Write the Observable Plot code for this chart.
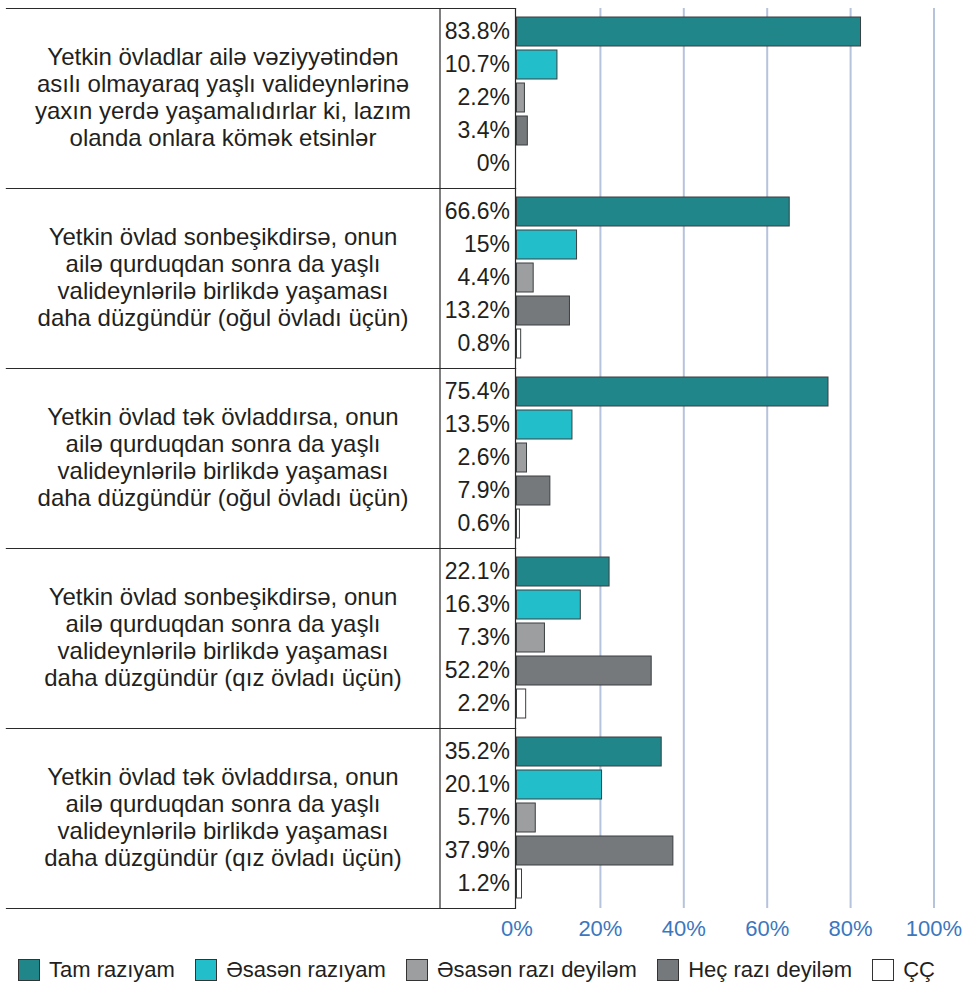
<!DOCTYPE html>
<html>
<head>
<meta charset="utf-8">
<script src="https://cdn.jsdelivr.net/npm/d3@7"></script>
<script src="https://cdn.jsdelivr.net/npm/@observablehq/plot@0.6"></script>
<style>
  body { margin: 0; background: #fff; font-family: "Liberation Sans", Arial, sans-serif; }
  #legend { display: flex; align-items: center; justify-content: space-between; width: 917px; margin: 12px 0 0 18px; font-size: 22px; color: #231f20; }
  #legend .item { display: flex; align-items: center; }
  #legend .sw { width: 22px; height: 22px; border: 1px solid #333; margin-right: 9px; box-sizing: border-box; }
</style>
</head>
<body>
<div id="chart"></div>
<div id="legend"></div>
<script>
const questions = [
  "Yetkin övladlar ailə vəziyyətindən\nasılı olmayaraq yaşlı valideynlərinə\nyaxın yerdə yaşamalıdırlar ki, lazım\nolanda onlara kömək etsinlər",
  "Yetkin övlad sonbeşikdirsə, onun\nailə qurduqdan sonra da yaşlı\nvalideynlərilə birlikdə yaşaması\ndaha düzgündür (oğul övladı üçün)",
  "Yetkin övlad tək övladdırsa, onun\nailə qurduqdan sonra da yaşlı\nvalideynlərilə birlikdə yaşaması\ndaha düzgündür (oğul övladı üçün)",
  "Yetkin övlad sonbeşikdirsə, onun\nailə qurduqdan sonra da yaşlı\nvalideynlərilə birlikdə yaşaması\ndaha düzgündür (qız övladı üçün)",
  "Yetkin övlad tək övladdırsa, onun\nailə qurduqdan sonra da yaşlı\nvalideynlərilə birlikdə yaşaması\ndaha düzgündür (qız övladı üçün)"
];
const categories = ["Tam razıyam", "Əsasən razıyam", "Əsasən razı deyiləm", "Heç razı deyiləm", "ÇÇ"];
const colors = ["#20868a", "#22bfca", "#9c9e9f", "#76797b", "#ffffff"];

// bar lengths as drawn in the picture (%)
const barValues = [
  [82.5, 9.7, 1.9, 2.6, 0],
  [65.4, 14.4, 4.0, 12.7, 1.0],
  [74.7, 13.3, 2.4, 8.0, 0.7],
  [22.2, 15.3, 6.7, 32.3, 2.2],
  [34.7, 20.4, 4.5, 37.5, 1.2]
];
// printed value labels
const valueLabels = [
  ["83.8%", "10.7%", "2.2%", "3.4%", "0%"],
  ["66.6%", "15%", "4.4%", "13.2%", "0.8%"],
  ["75.4%", "13.5%", "2.6%", "7.9%", "0.6%"],
  ["22.1%", "16.3%", "7.3%", "52.2%", "2.2%"],
  ["35.2%", "20.1%", "5.7%", "37.9%", "1.2%"]
];
const xTicks = [0, 20, 40, 60, 80, 100];

const rows = questions.flatMap((q, i) => categories.map((c, j) => ({
  question: q, category: c, value: barValues[i][j], label: valueLabels[i][j]
})));

const lineColor = "#2a2a2a";
const plot = Plot.plot({
  width: 966,
  height: 945,
  marginLeft: 516.5,
  marginRight: 32.5,
  marginTop: 6,
  marginBottom: 36,
  style: { fontFamily: "'Liberation Sans', Arial, sans-serif", color: "#231f20", background: "#fff" },
  x: { domain: [0, 100] },
  y: { domain: categories, paddingInner: 0.116, paddingOuter: 0.25, axis: null },
  fy: { domain: questions, padding: 0, axis: null },
  color: { domain: categories, range: colors },
  marks: [
    Plot.gridX({ ticks: xTicks.slice(1), stroke: "#b5c3dc", strokeOpacity: 1, strokeWidth: 2 }),
    Plot.barX(rows, { x: "value", y: "category", fy: "question", fill: "category", stroke: "#3a3f40", strokeWidth: 1 }),
    Plot.text(rows, { y: "category", fy: "question", text: "label", frameAnchor: "left", dx: -7, textAnchor: "end", fontSize: 23, fill: "#231f20" }),
    Plot.text(questions, { fy: d => d, text: d => d, frameAnchor: "left", dx: -294, dy: -2, textAnchor: "middle", fontSize: 24, lineHeight: 1.125, fill: "#231f20" }),
    Plot.ruleX([0], { dx: -77, stroke: lineColor, strokeWidth: 1.2 }),
    Plot.ruleX([0], { dx: -1.5, stroke: lineColor, strokeWidth: 1.2 }),
    Plot.frame({ anchor: "top", insetLeft: -510.5, insetRight: 418.5, stroke: lineColor, strokeWidth: 1.2 }),
    Plot.frame({ anchor: "bottom", insetLeft: -510.5, insetRight: 418.5, stroke: lineColor, strokeWidth: 1.2 }),
    Plot.axisX({ ticks: xTicks, tickFormat: d => d + "%", tickSize: 0, tickPadding: 12, fontSize: 22, color: "#3b77be", anchor: "bottom", label: null })
  ]
});
document.getElementById("chart").appendChild(plot);

const legend = d3.select("#legend");
categories.forEach((c, i) => {
  const item = legend.append("div").attr("class", "item");
  item.append("div").attr("class", "sw").style("background", colors[i]);
  item.append("span").text(c);
});
</script>
</body>
</html>
